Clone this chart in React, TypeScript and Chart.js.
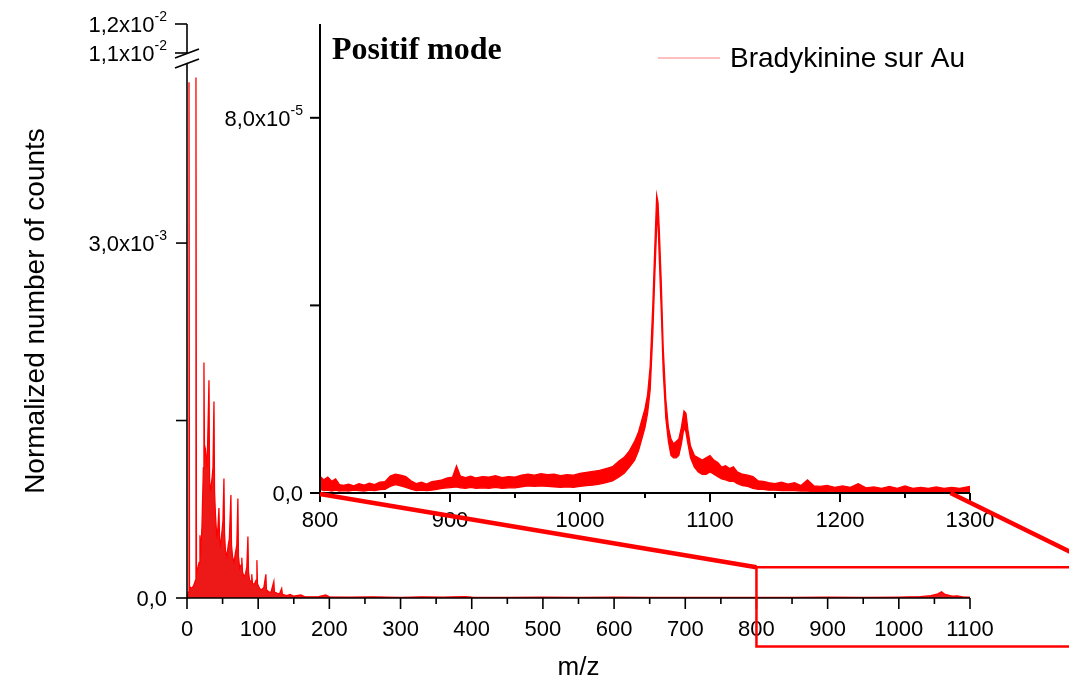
import React, { useEffect, useRef } from 'react';
import { Chart, registerables } from 'chart.js';

Chart.register(...registerables);

const SANS = "'Liberation Sans', Arial, sans-serif";
const SERIF = "'Liberation Serif', 'Times New Roman', serif";
const RED = '#ff0000';

// ---- Main spectrum (values in units of 1e-3) ----
const MAIN_UNIT = 1e-3;
const mainMz = [0, 2, 2.8, 3.5, 6, 9, 12, 12.6, 13.3, 15, 17, 18.2, 19, 21, 23, 23.8, 24.6, 26, 28, 29, 30.9, 31.7, 33, 35, 36.5, 37.9, 38.7, 40, 42, 43.5, 44.9, 45.7, 47, 49, 50.5, 51.9, 52.7, 54, 56, 58, 59.5, 61.7, 62.5, 64, 66, 68, 70, 71.5, 72.3, 74, 76, 77, 78, 80, 82, 84, 85.6, 86.4, 88, 90, 91, 92, 95, 97, 98.2, 99, 102, 105, 108, 110.8, 111.6, 115, 118, 122, 122.8, 127, 130, 133, 134, 140, 145, 150, 160, 165, 175, 185, 195, 200, 230, 260, 300, 330, 360, 390, 400, 450, 500, 550, 600, 650, 700, 750, 800, 850, 900, 950, 1000, 1030, 1045, 1055, 1060, 1065, 1075, 1082, 1090, 1100];
const mainCounts = [0, 0.05, 4.36, 0.1, 0.08, 0.1, 0.15, 4.4, 0.2, 0.25, 0.3, 0.53, 0.35, 0.6, 1.1, 1.99, 1.2, 1.25, 1.1, 1.3, 1.84, 1.0, 0.9, 1.0, 1.1, 1.66, 0.9, 0.7, 0.5, 0.6, 0.76, 0.5, 0.45, 0.55, 0.65, 1.01, 0.55, 0.4, 0.35, 0.45, 0.5, 0.87, 0.45, 0.35, 0.3, 0.38, 0.45, 0.84, 0.35, 0.25, 0.28, 0.34, 0.22, 0.18, 0.2, 0.26, 0.52, 0.22, 0.15, 0.14, 0.2, 0.12, 0.12, 0.15, 0.32, 0.12, 0.08, 0.07, 0.09, 0.2, 0.07, 0.05, 0.05, 0.14, 0.05, 0.04, 0.035, 0.08, 0.03, 0.02, 0.03, 0.015, 0.025, 0.012, 0.01, 0.012, 0.025, 0.01, 0.008, 0.01, 0.006, 0.01, 0.008, 0.012, 0.008, 0.006, 0.007, 0.005, 0.007, 0.005, 0.006, 0.006, 0.005, 0.006, 0.007, 0.006, 0.008, 0.012, 0.02, 0.035, 0.053, 0.03, 0.015, 0.018, 0.01, 0.008];

// ---- Inset spectrum: top and bottom of the noisy trace (units of 1e-6) ----
const INSET_UNIT = 1e-6;
const insetMz = [800, 803, 806, 809, 812, 815, 818, 822, 826, 830, 834, 838, 842, 846, 850, 854, 858, 862, 866, 870, 874, 878, 882, 886, 890, 894, 898, 902, 905, 908, 912, 916, 920, 925, 930, 935, 940, 945, 950, 955, 960, 965, 970, 975, 980, 985, 990, 995, 1000, 1005, 1010, 1015, 1020, 1025, 1030, 1034, 1038, 1042, 1045, 1048, 1050, 1052, 1054, 1056, 1057.5, 1059, 1060, 1061, 1062.5, 1064, 1066, 1068, 1070, 1072, 1074, 1076, 1078, 1080, 1081.5, 1083, 1085, 1088, 1091, 1094, 1097, 1100, 1103, 1106, 1109, 1112, 1115, 1118, 1121, 1125, 1129, 1133, 1137, 1141, 1145, 1150, 1155, 1160, 1165, 1170, 1175, 1180, 1185, 1190, 1196, 1202, 1208, 1214, 1220, 1226, 1232, 1238, 1244, 1250, 1256, 1262, 1268, 1274, 1280, 1286, 1292, 1300];
const insetUpper = [3.6, 2.8, 3.4, 2.5, 3.0, 1.8, 1.6, 1.9, 1.5, 2.0, 1.7, 2.1, 1.8, 2.3, 2.4, 3.6, 4.0, 3.8, 3.5, 2.6, 2.0, 2.3, 1.9, 2.4, 2.6, 2.8, 3.2, 3.4, 5.8, 3.6, 3.3, 3.6, 3.2, 3.5, 3.4, 3.7, 3.3, 3.5, 3.4, 3.8, 4.0, 3.8, 4.1, 3.9, 4.0, 3.7, 3.9, 3.8, 4.2, 4.4, 4.6, 4.8, 5.2, 5.6, 6.8, 7.6, 9.0, 11, 13, 16, 18, 21, 27, 40, 52, 63.5, 62, 56, 45, 31, 20, 14, 11.5, 10.5, 11, 11.5, 14, 17.5, 17, 13.5, 10, 8, 7.5, 7.0, 7.5, 8.0, 7.0, 6.5, 5.5, 5.8, 5.2, 5.6, 4.5, 4.0, 3.8, 3.5, 2.6, 2.5, 2.2, 2.0, 2.3, 1.9, 2.2, 1.6, 2.8, 1.5, 1.4, 1.6, 1.2, 1.5, 1.2, 2.0, 1.1, 1.3, 1.0, 1.4, 1.0, 1.5, 1.0, 1.2, 1.0, 1.3, 1.0, 1.2, 1.0, 1.4];
const insetLower = [0.8, 0.5, 0.6, 0.4, 0.6, 0.4, 0.5, 0.4, 0.6, 0.5, 0.4, 0.6, 0.5, 0.7, 0.8, 1.4, 1.8, 1.5, 1.2, 0.8, 0.5, 0.6, 0.5, 0.6, 0.8, 1.0, 1.1, 1.2, 1.3, 1.1, 1.0, 1.2, 1.0, 1.1, 1.0, 1.2, 1.0, 1.1, 1.1, 1.3, 1.5, 1.4, 1.5, 1.4, 1.3, 1.2, 1.3, 1.2, 1.4, 1.6, 1.7, 1.9, 2.2, 2.6, 3.4, 4.2, 5.5, 7.0, 9.0, 12, 14, 17, 22, 34, 46, 57, 58, 50, 39, 26, 16, 11, 8, 7.5, 7.5, 8, 10.5, 14, 13, 10.5, 7.5, 5.5, 4.5, 4.0, 4.0, 4.5, 4.0, 3.5, 3.0, 2.8, 2.5, 2.5, 2.0, 1.6, 1.4, 1.0, 0.8, 0.8, 0.6, 0.6, 0.5, 0.5, 0.5, 0.4, 0.4, 0.3, 0.3, 0.3, 0.2, 0.2, 0.2, 0.2, 0.2, 0.2, 0.2, 0.2, 0.2, 0.2, 0.2, 0.2, 0.2, 0.2, 0.2, 0.2, 0.2, 0.3];

// ---- Ticks & labels ----
const mainXMajor = [0, 100, 200, 300, 400, 500, 600, 700, 800, 900, 1000, 1100];
const mainXMinor = [50, 150, 250, 350, 450, 550, 650, 750, 850, 950, 1050];
const mainYTicks = [0, 1.5e-3, 3.0e-3];
const mainYTopTicks = [1.1e-2, 1.2e-2];
const mainYLabels = [
  { value: 0, base: '0,0', exp: '' },
  { value: 3.0e-3, base: '3,0x10', exp: '-3' },
];
const mainYTopLabels = [
  { value: 1.1e-2, base: '1,1x10', exp: '-2' },
  { value: 1.2e-2, base: '1,2x10', exp: '-2' },
];
const insetXMajor = [800, 900, 1000, 1100, 1200, 1300];
const insetXMinor = [850, 950, 1050, 1150, 1250];
const insetYTicks = [0, 4e-5, 8e-5];
const insetYLabels = [
  { value: 0, base: '0,0', exp: '' },
  { value: 8e-5, base: '8,0x10', exp: '-5' },
];

const seriesLabel = 'Bradykinine sur Au';
const insetTitle = 'Positif mode';
const xTitle = 'm/z';
const yTitle = 'Normalized number of counts';

// zoom region (main-chart coordinates) linked to inset
const zoomBox = { x0: 800, x1: 1285, yLow: -4.1e-4, yHigh: 2.6e-4 };

function seg(ctx: CanvasRenderingContext2D, x1: number, y1: number, x2: number, y2: number) {
  ctx.beginPath();
  ctx.moveTo(x1, y1);
  ctx.lineTo(x2, y2);
  ctx.stroke();
}

function supLabel(ctx: CanvasRenderingContext2D, base: string, exp: string, right: number, cy: number) {
  ctx.textAlign = 'left';
  ctx.textBaseline = 'alphabetic';
  ctx.font = `22px ${SANS}`;
  const bw = ctx.measureText(base).width;
  ctx.font = `14px ${SANS}`;
  const ew = exp ? ctx.measureText(exp).width : 0;
  const start = right - bw - ew;
  ctx.font = `22px ${SANS}`;
  ctx.fillText(base, start, cy + 8);
  if (exp) {
    ctx.font = `14px ${SANS}`;
    ctx.fillText(exp, start + bw, cy - 3);
  }
}

const mainDecor = {
  id: 'mainDecor',
  afterDraw(chart: any) {
    const ctx: CanvasRenderingContext2D = chart.ctx;
    const xs = chart.scales.x;
    const ys = chart.scales.y;
    const yt = chart.scales.yTop;
    const ax = xs.left;
    const y0 = ys.getPixelForValue(0);
    ctx.save();
    ctx.strokeStyle = '#000';
    ctx.fillStyle = '#000';
    ctx.lineWidth = 1.6;
    seg(ctx, ax, y0, xs.right, y0);
    mainXMajor.forEach((v) => {
      const px = xs.getPixelForValue(v);
      seg(ctx, px, y0, px, y0 + 11);
    });
    mainXMinor.forEach((v) => {
      const px = xs.getPixelForValue(v);
      seg(ctx, px, y0, px, y0 + 6);
    });
    const j = ys.top;
    seg(ctx, ax, y0 + 0.8, ax, j + 5);
    seg(ctx, ax, yt.top, ax, j - 5);
    ctx.lineWidth = 1.8;
    seg(ctx, ax - 12, j - 5 + 4.5, ax + 12, j - 5 - 4.5);
    seg(ctx, ax - 12, j + 5 + 4.5, ax + 12, j + 5 - 4.5);
    ctx.lineWidth = 1.6;
    mainYTicks.forEach((v) => {
      const py = ys.getPixelForValue(v);
      seg(ctx, ax - 11, py, ax, py);
    });
    mainYTopTicks.forEach((v) => {
      const py = yt.getPixelForValue(v);
      seg(ctx, ax - 12, py, ax, py);
    });
    mainYLabels.forEach((l) => supLabel(ctx, l.base, l.exp, ax - 20, ys.getPixelForValue(l.value)));
    mainYTopLabels.forEach((l) => supLabel(ctx, l.base, l.exp, ax - 20, yt.getPixelForValue(l.value)));
    ctx.font = `26px ${SANS}`;
    ctx.textAlign = 'center';
    ctx.textBaseline = 'alphabetic';
    ctx.fillText(xTitle, (xs.left + xs.right) / 2, 675);
    ctx.save();
    ctx.translate(44, 311);
    ctx.rotate(-Math.PI / 2);
    ctx.font = `28px ${SANS}`;
    ctx.fillText(yTitle, 0, 0);
    ctx.restore();
    ctx.restore();
  },
};

function makeInsetDecor(mainChart: any) {
  return {
    id: 'insetDecor',
    afterDraw(chart: any) {
      const ctx: CanvasRenderingContext2D = chart.ctx;
      const xs = chart.scales.x;
      const ys = chart.scales.y;
      const ax = xs.left;
      const y0 = ys.getPixelForValue(0);
      ctx.save();
      ctx.strokeStyle = '#000';
      ctx.fillStyle = '#000';
      ctx.lineWidth = 2;
      seg(ctx, ax, y0, xs.right, y0);
      seg(ctx, ax, y0 + 1, ax, ys.top);
      insetXMajor.forEach((v) => {
        const px = xs.getPixelForValue(v);
        seg(ctx, px, y0, px, y0 + 9);
      });
      insetXMinor.forEach((v) => {
        const px = xs.getPixelForValue(v);
        seg(ctx, px, y0, px, y0 + 5);
      });
      insetYTicks.forEach((v) => {
        const py = ys.getPixelForValue(v);
        seg(ctx, ax - 10, py, ax, py);
      });
      insetYLabels.forEach((l) => supLabel(ctx, l.base, l.exp, ax - 17, ys.getPixelForValue(l.value)));
      ctx.font = `bold 32px ${SERIF}`;
      ctx.textAlign = 'left';
      ctx.textBaseline = 'alphabetic';
      ctx.fillText(insetTitle, ax + 12, 59);
      ctx.strokeStyle = RED;
      ctx.globalAlpha = 0.5;
      ctx.lineWidth = 1.2;
      seg(ctx, 658, 58, 720, 58);
      ctx.globalAlpha = 1;
      ctx.font = `28px ${SANS}`;
      ctx.fillText(seriesLabel, 730, 67);
      if (mainChart) {
        const mx = mainChart.scales.x;
        const my = mainChart.scales.y;
        const bx0 = mx.getPixelForValue(zoomBox.x0);
        const bx1 = mx.getPixelForValue(zoomBox.x1);
        const byTop = my.getPixelForValue(zoomBox.yHigh);
        const byBot = my.getPixelForValue(zoomBox.yLow);
        ctx.strokeStyle = RED;
        ctx.lineWidth = 4.5;
        seg(ctx, xs.getPixelForValue(zoomBox.x0), y0 + 1, bx0, byTop);
        seg(ctx, xs.getPixelForValue(zoomBox.x1), y0, bx1, byTop);
        ctx.lineWidth = 2.5;
        ctx.strokeRect(bx0, byTop, bx1 - bx0, byBot - byTop);
      }
      ctx.restore();
    },
  };
}

export default function App() {
  const mainRef = useRef<HTMLCanvasElement>(null);
  const insetRef = useRef<HTMLCanvasElement>(null);

  useEffect(() => {
    if (!mainRef.current || !insetRef.current) return;
    const hidden = { display: false };
    const main = new Chart(mainRef.current, {
      type: 'line',
      data: {
        datasets: [
          {
            label: seriesLabel,
            data: mainMz.map((x, i) => ({ x, y: mainCounts[i] * MAIN_UNIT })),
            borderColor: RED,
            backgroundColor: 'rgba(235,0,0,0.9)',
            borderWidth: 1.3,
            pointRadius: 0,
            fill: 'origin',
            tension: 0,
            yAxisID: 'y',
          },
        ],
      },
      options: {
        animation: false,
        responsive: false,
        maintainAspectRatio: false,
        layout: { padding: { left: 187, right: 99, top: 24, bottom: 0 } },
        plugins: { legend: hidden, tooltip: { enabled: false }, title: hidden },
        scales: {
          x: {
            type: 'linear',
            min: 0,
            max: 1100,
            afterFit: (s: any) => { s.height = 88; },
            grid: { display: false, drawTicks: false },
            border: { display: false },
            ticks: {
              stepSize: 100,
              autoSkip: false,
              maxRotation: 0,
              padding: 19,
              color: '#000',
              font: { family: SANS, size: 22 },
              callback: (v: any) => String(v),
            },
          },
          y: {
            type: 'linear',
            position: 'left',
            stack: 'ybreak',
            stackWeight: 539.5,
            min: 0,
            max: 4.56e-3,
            afterFit: (s: any) => { s.width = 0; },
            grid: { display: false, drawTicks: false },
            border: { display: false },
            ticks: { display: false },
          },
          yTop: {
            type: 'linear',
            position: 'left',
            stack: 'ybreak',
            stackWeight: 34.5,
            min: 1.081e-2,
            max: 1.2e-2,
            afterFit: (s: any) => { s.width = 0; },
            grid: { display: false, drawTicks: false },
            border: { display: false },
            ticks: { display: false },
          },
        },
      } as any,
      plugins: [mainDecor],
    });

    const inset = new Chart(insetRef.current, {
      type: 'line',
      data: {
        datasets: [
          {
            label: seriesLabel,
            data: insetMz.map((x, i) => ({ x, y: insetUpper[i] * INSET_UNIT })),
            borderColor: RED,
            backgroundColor: RED,
            borderWidth: 1.3,
            pointRadius: 0,
            fill: '+1',
            tension: 0,
          },
          {
            label: seriesLabel + ' (min)',
            data: insetMz.map((x, i) => ({ x, y: insetLower[i] * INSET_UNIT })),
            borderColor: RED,
            borderWidth: 1.3,
            pointRadius: 0,
            fill: false,
            tension: 0,
          },
        ],
      },
      options: {
        animation: false,
        responsive: false,
        maintainAspectRatio: false,
        layout: { padding: { left: 320, right: 99, top: 24, bottom: 0 } },
        plugins: { legend: hidden, tooltip: { enabled: false }, title: hidden },
        scales: {
          x: {
            type: 'linear',
            min: 800,
            max: 1300,
            afterFit: (s: any) => { s.height = 193; },
            grid: { display: false, drawTicks: false },
            border: { display: false },
            ticks: {
              stepSize: 100,
              autoSkip: false,
              maxRotation: 0,
              padding: 15,
              color: '#000',
              font: { family: SANS, size: 22 },
              callback: (v: any) => String(v),
            },
          },
          y: {
            type: 'linear',
            position: 'left',
            min: 0,
            max: 1e-4,
            afterFit: (s: any) => { s.width = 0; },
            grid: { display: false, drawTicks: false },
            border: { display: false },
            ticks: { display: false },
          },
        },
      } as any,
      plugins: [makeInsetDecor(main)],
    });

    return () => {
      inset.destroy();
      main.destroy();
    };
  }, []);

  const canvasStyle: React.CSSProperties = { position: 'absolute', left: 0, top: 0, width: 1069, height: 686 };
  return (
    <div style={{ position: 'fixed', left: 0, top: 0, width: 1069, height: 686, background: '#fff', overflow: 'hidden' }}>
      <canvas ref={mainRef} width={1069} height={686} style={canvasStyle} />
      <canvas ref={insetRef} width={1069} height={686} style={canvasStyle} />
    </div>
  );
}
